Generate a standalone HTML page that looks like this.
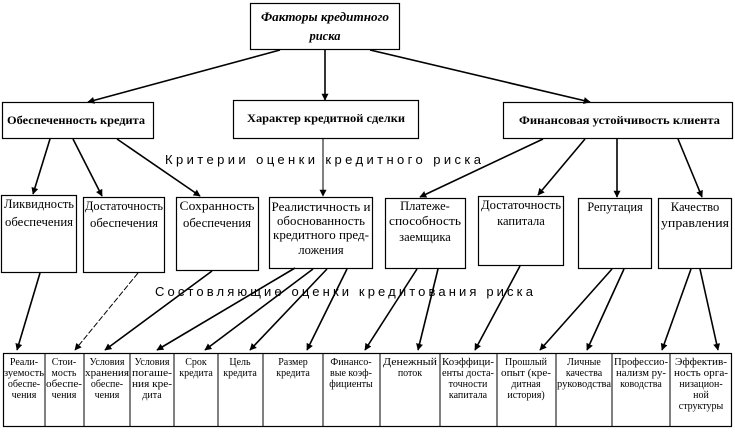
<!DOCTYPE html>
<html><head><meta charset="utf-8"><style>
html,body{margin:0;padding:0;background:#fff;}
svg{display:block;}
text{font-family:"Liberation Serif","DejaVu Serif",serif;fill:#000;}
.s{font-family:"Liberation Sans","DejaVu Sans",sans-serif;}
</style></head><body>
<svg width="735" height="432" viewBox="0 0 735 432" xmlns="http://www.w3.org/2000/svg">
<defs>
<marker id="a" viewBox="0 0 10 10" refX="9" refY="5" markerWidth="7" markerHeight="7" orient="auto" markerUnits="userSpaceOnUse">
<path d="M0,0 L10,5 L0,10 z" fill="#000"/></marker>
</defs>
<g fill="none" stroke="#000" stroke-width="1.2">
<rect x="250.5" y="3.5" width="149" height="46"/>
<rect x="2.5" y="102.5" width="151" height="36"/>
<rect x="233.5" y="100.5" width="185" height="38"/>
<rect x="503.5" y="102.5" width="229" height="36"/>
<rect x="1.5" y="195.5" width="75" height="77"/>
<rect x="83.5" y="197.5" width="81" height="75"/>
<rect x="176.5" y="197.5" width="82" height="73"/>
<rect x="269.5" y="197.5" width="103" height="71"/>
<rect x="385.5" y="198.5" width="80" height="70"/>
<rect x="478.5" y="196.5" width="85" height="69"/>
<rect x="578.5" y="198.5" width="73" height="70"/>
<rect x="658.5" y="198.5" width="73" height="70"/>
<rect x="3.5" y="353.5" width="728" height="73"/>
</g>
<g stroke="#000" stroke-width="1">
<line x1="45" y1="353" x2="45" y2="427"/><line x1="84" y1="353" x2="84" y2="427"/>
<line x1="130" y1="353" x2="130" y2="427"/><line x1="174" y1="353" x2="174" y2="427"/>
<line x1="218" y1="353" x2="218" y2="427"/><line x1="263" y1="353" x2="263" y2="427"/>
<line x1="323" y1="353" x2="323" y2="427"/><line x1="380" y1="353" x2="380" y2="427"/>
<line x1="440" y1="353" x2="440" y2="427"/><line x1="497" y1="353" x2="497" y2="427"/>
<line x1="556" y1="353" x2="556" y2="427"/><line x1="612" y1="353" x2="612" y2="427"/>
<line x1="670" y1="353" x2="670" y2="427"/>
</g>
<g stroke="#000" stroke-width="1.6" marker-end="url(#a)">
<line x1="280" y1="50" x2="88" y2="102"/>
<line x1="325" y1="50" x2="325" y2="100"/>
<line x1="370" y1="50" x2="590" y2="102"/>
<line x1="50" y1="139" x2="33" y2="194"/>
<line x1="73" y1="139" x2="102" y2="196"/>
<line x1="117" y1="139" x2="200" y2="196"/>
<line x1="323" y1="139" x2="323" y2="196" stroke-width="1"/>
<line x1="543" y1="139" x2="420" y2="197"/>
<line x1="585" y1="139" x2="538" y2="195"/>
<line x1="617" y1="139" x2="617" y2="197"/>
<line x1="678" y1="139" x2="702" y2="197"/>
<line x1="40" y1="273" x2="17" y2="350"/>
<line x1="138" y1="273" x2="75" y2="350" stroke-width="1" stroke-dasharray="6,2"/>
<line x1="212" y1="271" x2="105" y2="350"/>
<line x1="295" y1="268" x2="157" y2="350"/>
<line x1="313" y1="269" x2="205" y2="350"/>
<line x1="327" y1="269" x2="250" y2="350"/>
<line x1="347" y1="269" x2="307" y2="350"/>
<line x1="417" y1="269" x2="365" y2="350"/>
<line x1="438" y1="269" x2="418" y2="350"/>
<line x1="520" y1="266" x2="475" y2="350"/>
<line x1="612" y1="269" x2="540" y2="350"/>
<line x1="624" y1="269" x2="587" y2="350"/>
<line x1="691" y1="269" x2="662" y2="350"/>
<line x1="700" y1="269" x2="718" y2="350"/>
</g>
<g font-size="12.5" font-weight="bold" font-style="italic" text-anchor="middle">
<text x="325" y="21" textLength="128" lengthAdjust="spacingAndGlyphs">Факторы кредитного</text>
<text x="325" y="40">риска</text>
</g>
<g font-size="12" font-weight="bold">
<text x="7" y="124" textLength="138" lengthAdjust="spacingAndGlyphs">Обеспеченность кредита</text>
<text x="247" y="122" textLength="158" lengthAdjust="spacingAndGlyphs">Характер кредитной сделки</text>
<text x="519" y="124" textLength="201" lengthAdjust="spacingAndGlyphs">Финансовая устойчивость клиента</text>
</g>
<text class="s" x="165" y="164" font-size="13" textLength="316" lengthAdjust="spacing">Критерии  оценки  кредитного  риска</text>
<text class="s" x="155" y="296" font-size="13" textLength="378" lengthAdjust="spacing">Состовляющие  оценки  кредитования  риска</text>
<g font-size="12.5" text-anchor="middle">
<text x="39" y="208" textLength="70" lengthAdjust="spacingAndGlyphs">Ликвидность</text>
<text x="39" y="226" textLength="68" lengthAdjust="spacingAndGlyphs">обеспечения</text>
<text x="124" y="210" textLength="78" lengthAdjust="spacingAndGlyphs">Достаточность</text>
<text x="124" y="227" textLength="68" lengthAdjust="spacingAndGlyphs">обеспечения</text>
<text x="217" y="210" textLength="75" lengthAdjust="spacingAndGlyphs">Сохранность</text>
<text x="217" y="227" textLength="68" lengthAdjust="spacingAndGlyphs">обеспечения</text>
<text x="321" y="211" textLength="99" lengthAdjust="spacingAndGlyphs">Реалистичность и</text>
<text x="321" y="225" textLength="88" lengthAdjust="spacingAndGlyphs">обоснованность</text>
<text x="321" y="239" textLength="96" lengthAdjust="spacingAndGlyphs">кредитного пред-</text>
<text x="321" y="254">ложения</text>
<text x="425" y="210">Платеже-</text>
<text x="425" y="225" textLength="72" lengthAdjust="spacingAndGlyphs">способность</text>
<text x="425" y="241">заемщика</text>
<text x="521" y="209" textLength="80" lengthAdjust="spacingAndGlyphs">Достаточность</text>
<text x="521" y="225">капитала</text>
<text x="615" y="211">Репутация</text>
<text x="695" y="211">Качество</text>
<text x="695" y="227" textLength="68" lengthAdjust="spacingAndGlyphs">управления</text>
</g>
<g font-size="10" text-anchor="middle">
<text x="24" y="365">Реали-</text><text x="24" y="376" textLength="40" lengthAdjust="spacingAndGlyphs">зуемость</text><text x="24" y="387">обеспе-</text><text x="24" y="398">чения</text>
<text x="64" y="365">Стои-</text><text x="64" y="376">мость</text><text x="64" y="387" textLength="36" lengthAdjust="spacingAndGlyphs">обеспе-</text><text x="64" y="398">чения</text>
<text x="107" y="365">Условия</text><text x="107" y="376" textLength="44" lengthAdjust="spacingAndGlyphs">хранения</text><text x="107" y="387">обеспе-</text><text x="107" y="398">чения</text>
<text x="152" y="365">Условия</text><text x="152" y="376" textLength="40" lengthAdjust="spacingAndGlyphs">погаше-</text><text x="152" y="387" textLength="40" lengthAdjust="spacingAndGlyphs">ния кре-</text><text x="152" y="398">дита</text>
<text x="196" y="365">Срок</text><text x="196" y="376">кредита</text>
<text x="240" y="365">Цель</text><text x="240" y="376">кредита</text>
<text x="293" y="365">Размер</text><text x="293" y="376">кредита</text>
<text x="351" y="365">Финансо-</text><text x="351" y="376">вые коэф-</text><text x="351" y="387">фициенты</text>
<text x="410" y="365" textLength="54" lengthAdjust="spacingAndGlyphs">Денежный</text><text x="410" y="376">поток</text>
<text x="468" y="365" textLength="52" lengthAdjust="spacingAndGlyphs">Коэффици-</text><text x="468" y="376" textLength="52" lengthAdjust="spacingAndGlyphs">енты доста-</text><text x="468" y="387">точности</text><text x="468" y="398">капитала</text>
<text x="526" y="365">Прошлый</text><text x="526" y="376" textLength="50" lengthAdjust="spacingAndGlyphs">опыт (кре-</text><text x="526" y="387">дитная</text><text x="526" y="398">история)</text>
<text x="584" y="365">Личные</text><text x="584" y="376">качества</text><text x="584" y="387" textLength="54" lengthAdjust="spacingAndGlyphs">руководства</text>
<text x="641" y="365" textLength="54" lengthAdjust="spacingAndGlyphs">Профессио-</text><text x="641" y="376" textLength="50" lengthAdjust="spacingAndGlyphs">нализм ру-</text><text x="641" y="387">ководства</text>
<text x="701" y="365" textLength="52" lengthAdjust="spacingAndGlyphs">Эффектив-</text><text x="701" y="376" textLength="54" lengthAdjust="spacingAndGlyphs">ность орга-</text><text x="701" y="387">низацион-</text><text x="701" y="398">ной</text><text x="701" y="409">структуры</text>
</g>
</svg>
</body></html>
